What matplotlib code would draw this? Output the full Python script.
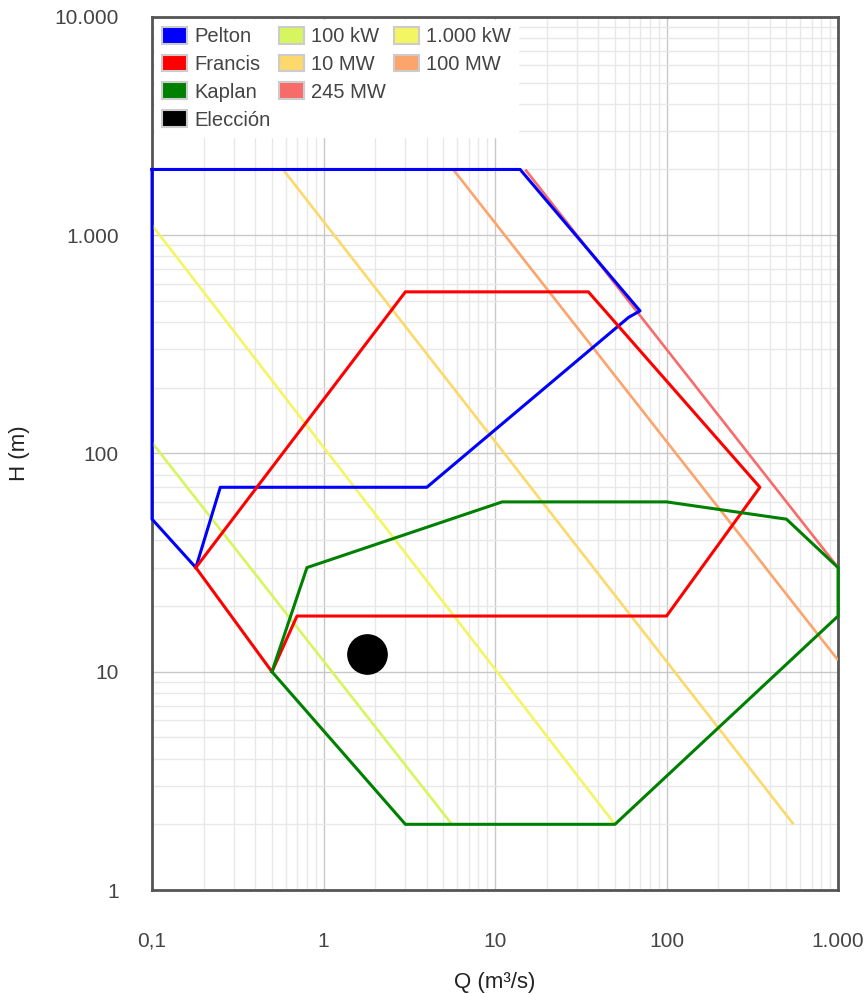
import matplotlib
matplotlib.use("Agg")
import matplotlib.pyplot as plt
from matplotlib.patches import Patch
from matplotlib.ticker import NullFormatter, LogLocator

plt.rcParams['font.family'] = ['Liberation Sans', 'DejaVu Sans']

# zonas de aplicacion de cada turbina (Q en m3/s, H en m)
pelton_q = [0.1, 14, 70, 60, 4, 0.25, 0.18, 0.1, 0.1]
pelton_h = [2000, 2000, 450, 420, 70, 70, 30, 50, 2000]

francis_q = [0.18, 3, 35, 350, 100, 0.7, 0.5, 0.18]
francis_h = [30, 550, 550, 70, 18, 18, 10, 30]

kaplan_q = [0.5, 0.8, 11, 100, 500, 1000, 1000, 50, 3, 0.5]
kaplan_h = [10, 30, 60, 60, 50, 30, 18, 2, 2, 10]

# lineas de potencia constante
pot_nombres = ['100 kW', '1.000 kW', '10 MW', '100 MW', '245 MW']
pot_q = [[0.1, 5.6], [0.1, 50], [0.58, 550], [5.7, 1000], [15, 1000]]
pot_h = [[112, 2], [1110, 2], [2000, 2], [2000, 11.3], [2000, 30]]
pot_colores = ['#d6f55e', '#f3f562', '#fdd86a', '#fba46c', '#f76b6b']

# punto elegido
eleccion_q = [1.8]
eleccion_h = [12]

xticks = [0.1, 1, 10, 100, 1000]
xlabels = ['0,1', '1', '10', '100', '1.000']
yticks = [1, 10, 100, 1000, 10000]
ylabels = ['1', '10', '100', '1.000', '10.000']

fig = plt.figure(figsize=(8.64, 9.94), dpi=100)
ax = fig.add_axes([0.176, 0.1046, 0.794, 0.8784])
ax.set_xscale('log')
ax.set_yscale('log')
ax.set_xlim(0.1, 1000)
ax.set_ylim(1, 10000)

for q, h, c in zip(pot_q, pot_h, pot_colores):
    ax.plot(q, h, color=c, lw=1.9, zorder=3, solid_capstyle='butt')

ax.plot(pelton_q, pelton_h, color='#0000ff', lw=2.2, zorder=4, clip_on=False)
ax.plot(francis_q, francis_h, color='#ff0000', lw=2.2, zorder=4, clip_on=False)
ax.plot(kaplan_q, kaplan_h, color='#008000', lw=2.2, zorder=4, clip_on=False)
ax.scatter(eleccion_q, eleccion_h, s=800, color='black', zorder=5)

# rejilla
ax.grid(True, which='major', color='#c8c8c8', lw=1.0)
ax.grid(True, which='minor', color='#e8e8e8', lw=1.0)
ax.set_axisbelow(True)
ax.xaxis.set_minor_locator(LogLocator(base=10, subs=range(2, 10)))
ax.yaxis.set_minor_locator(LogLocator(base=10, subs=range(2, 10)))
ax.xaxis.set_minor_formatter(NullFormatter())
ax.yaxis.set_minor_formatter(NullFormatter())
ax.set_xticks(xticks, xlabels)
ax.set_yticks(yticks, ylabels)
ax.tick_params(which='both', length=0)
ax.tick_params(axis='x', pad=30, labelsize=15, labelcolor='#444444')
ax.tick_params(axis='y', pad=24, labelsize=15, labelcolor='#444444')

for s in ax.spines.values():
    s.set_color('#555555')
    s.set_linewidth(2)

ax.set_xlabel('Q (m³/s)', fontsize=16, color='#222222')
ax.set_ylabel('H (m)', fontsize=16, color='#222222')
ax.xaxis.set_label_coords(0.5, -0.094)
ax.yaxis.set_label_coords(-0.178, 0.5)

# leyenda: 3 columnas de 4 filas, con huecos vacios
def cuadro(c):
    return Patch(facecolor=c, edgecolor='#cccccc', lw=1.5)

vacio = Patch(facecolor='none', edgecolor='none')
handles = [cuadro('#0000ff'), cuadro('#ff0000'), cuadro('#008000'), cuadro('black'),
           cuadro(pot_colores[0]), cuadro(pot_colores[2]), cuadro(pot_colores[4]), vacio,
           cuadro(pot_colores[1]), cuadro(pot_colores[3]), vacio, vacio]
labels = ['Pelton', 'Francis', 'Kaplan', 'Elección',
          pot_nombres[0], pot_nombres[2], pot_nombres[4], '',
          pot_nombres[1], pot_nombres[3], '', '']
leg = ax.legend(handles, labels, loc='upper left', ncol=3, fontsize=14.5,
                frameon=True, fancybox=False, framealpha=1, edgecolor='white',
                borderpad=0.35, borderaxespad=0.15, handlelength=1.25,
                handleheight=0.9, handletextpad=0.35, columnspacing=0.4,
                labelspacing=0.42)
for t in leg.get_texts():
    t.set_color('#444444')
leg.set_zorder(6)

fig.savefig('out.png', dpi=100)
